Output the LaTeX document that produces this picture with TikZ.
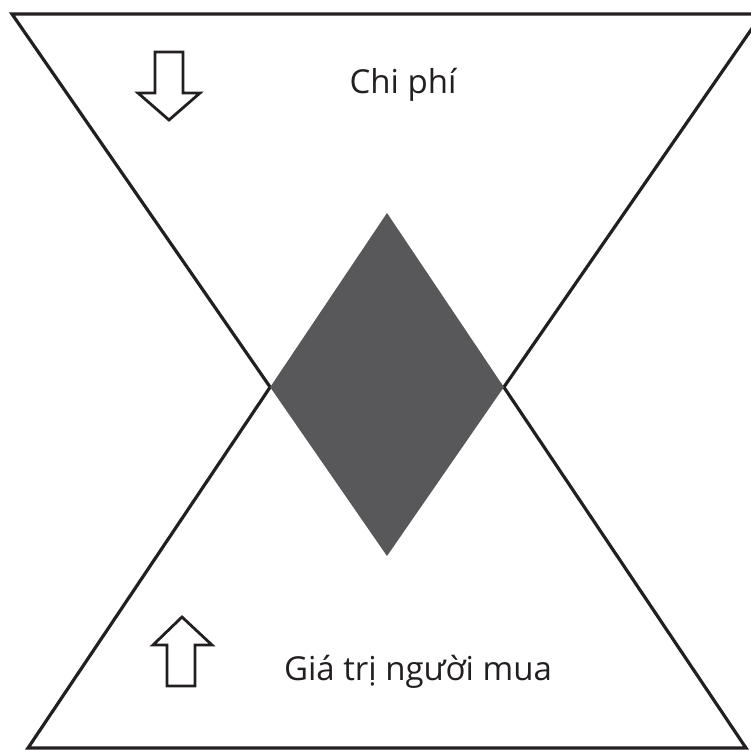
\documentclass[tikz,border=0pt]{standalone}
\usepackage{fontspec}
\setmainfont{Open Sans}
\usetikzlibrary{intersections}
\definecolor{inkline}{HTML}{231F20}
\definecolor{diamondgray}{HTML}{58585A}

\begin{document}
\begin{tikzpicture}[x=1pt,y=-1pt,
    edge/.style={draw=inkline,line width=3.2pt,line join=miter},
    hollow/.style={draw=inkline,line width=2.8pt,fill=white,line join=miter},
    label/.style={text=inkline,font=\fontsize{33}{38}\selectfont,anchor=base}]

% Frame of the picture
\useasboundingbox (0,0) rectangle (751,749);
\clip (0,0) rectangle (751,749);

% Corners of the two triangles
\coordinate (costTL) at (12,14);
\coordinate (costTR) at (762,14);
\coordinate (costTip) at (387,556);
\coordinate (valBL) at (28,748);
\coordinate (valBR) at (746,748);
\coordinate (valTip) at (387,213);

% Where the sides cross
\path[name path=costLeft] (costTL) -- (costTip);
\path[name path=costRight] (costTR) -- (costTip);
\path[name path=valLeft] (valBL) -- (valTip);
\path[name path=valRight] (valBR) -- (valTip);
\path[name intersections={of=costLeft and valLeft,by=crossL}];
\path[name intersections={of=costRight and valRight,by=crossR}];

% Cost triangle (apex down)
\draw[edge] (crossL) -- (costTL) -- (costTR) -- (crossR);

% Buyer value triangle (apex up)
\draw[edge] (crossL) -- (valBL) -- (valBR) -- (crossR);

% Overlap
\fill[diamondgray] (valTip) -- (crossR) -- (costTip) -- (crossL) -- cycle;

% Down arrow
\draw[hollow] (155,52) -- (183,52) -- (183,93) -- (200,93) -- (169,120)
    -- (138,93) -- (155,93) -- cycle;

% Up arrow
\draw[hollow] (182,617) -- (212,645) -- (195,645) -- (195,686) -- (167,686)
    -- (167,645) -- (153,645) -- cycle;

% Labels
\node[label] (cost) at (403,94) {Chi phí};
\node[label] (value) at (418,680) {Giá trị người mua};

\end{tikzpicture}
\end{document}
